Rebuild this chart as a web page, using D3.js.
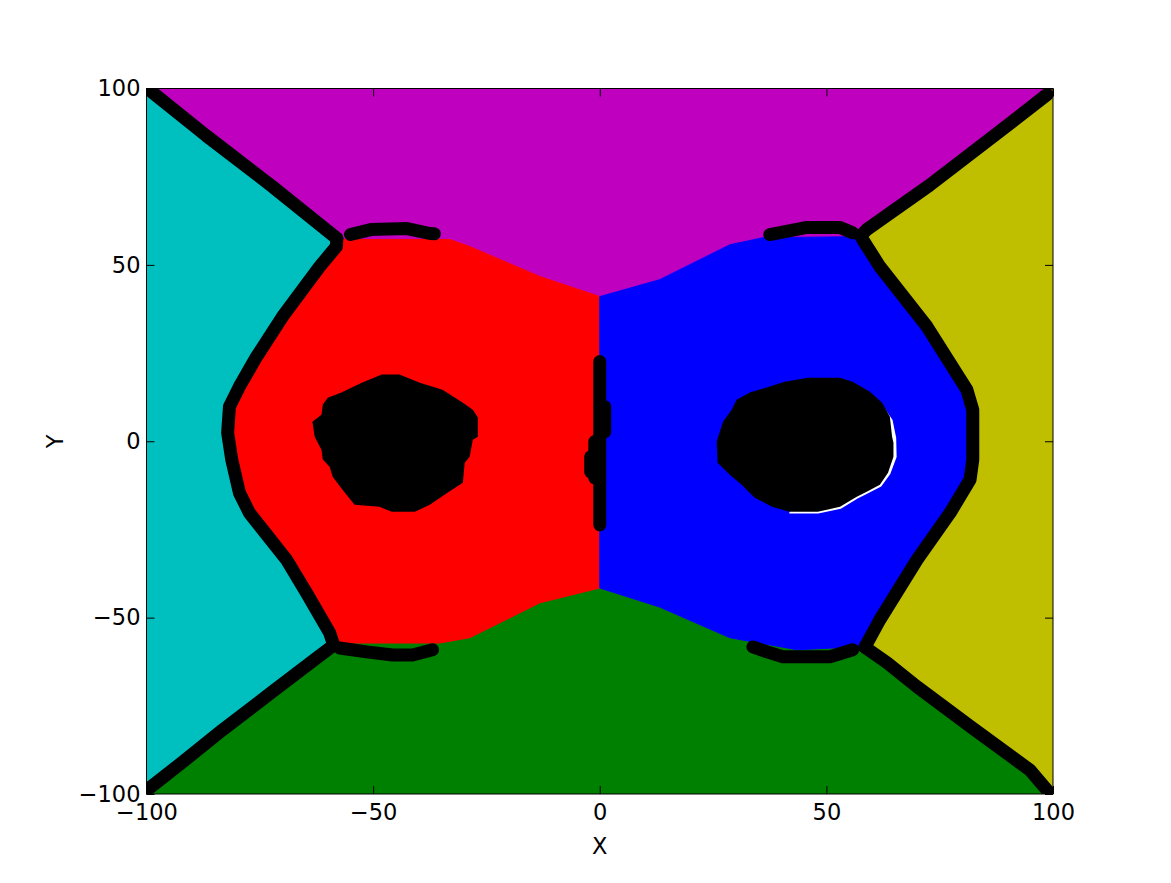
<!DOCTYPE html>
<meta charset="utf-8"/>
<style>
  body { margin: 0; background: #fff; }
  svg { display: block; }
  text { font-family: "DejaVu Sans"; }
</style>
<svg width="1171" height="883"></svg>
<script src="https://d3js.org/d3.v7.min.js"></script>
<script>

var xTicks = [-100, -50, 0, 50, 100],
    yTicks = [-100, -50, 0, 50, 100];

// region boundaries (data units)
var leftTopEdge = [[-100,100],[-98.7,98.9],[-86.8,86.6],[-72.2,72.2],[-58,57.5]];
var redLeftEdge = [[-58,57.5],[-58.1,55.2],[-61.8,49.5],[-70,35.3],[-75.7,24],[-79.5,15.5],[-81.7,9.8],[-82.1,2.4],[-81.2,-5.2],[-79.5,-14.6],[-77.3,-20.3],[-69.1,-33.6],[-64.7,-43],[-59.6,-54.3],[-58.7,-57.8]];
var leftBottomEdge = [[-58.7,-57.8],[-62.5,-61.5],[-72.2,-71],[-83.2,-81.8],[-92.1,-91],[-99.3,-98.3],[-100,-100]];
var redTopEdge = [[-58,57.5],[-57.8,57.2],[-33.1,57.2],[-28.7,55.2],[-13.2,46.7],[0,41]];
var blueTopEdge = [[0,41],[13.2,45.8],[28.7,55.7],[36,57.7],[56.7,58],[57.6,58.2]];
var rightTopEdge = [[57.6,58.2],[58.9,60],[72.8,72.6],[87.6,87.2],[98.7,98.3],[100,100]];
var blueRightEdge = [[57.6,58.2],[58.1,57],[61.8,49.5],[72.2,32.5],[81,14.6],[82.3,8.9],[82.3,-5.2],[81.7,-10.9],[77.3,-20.3],[70,-33.6],[61.8,-50.6],[58.5,-58.4]];
var rightBottomEdge = [[58.5,-58.4],[63.4,-62.8],[70,-69.6],[81.7,-80.8],[94.9,-93.2],[98.7,-98.9],[100,-100]];
var redBottomEdge = [[-58.7,-57.8],[-57.4,-57.2],[-35.3,-57.2],[-28.7,-55.7],[-13.2,-45.8],[0,-41.6]];
var blueBottomEdge = [[0,-41.6],[13.2,-47],[28.7,-55.7],[43.5,-59.1],[56.7,-58.3],[58.5,-58.4]];
var middleEdge = [[0,41],[0,-41.6]];

// black blobs
var leftBlob = [[-48.1,18.9],[-44.2,18.9],[-39.7,16.6],[-34.7,14.6],[-30.2,10.9],[-28,8.9],[-26.9,6.7],[-26.9,1.3],[-28,0.4],[-28.7,-4.4],[-29.8,-6.1],[-30.2,-11.8],[-33.6,-14.6],[-37.5,-18],[-40.8,-20],[-45.9,-20],[-48.6,-18.6],[-54.1,-18],[-56.7,-13.8],[-58.9,-10.1],[-59.6,-7.2],[-61.1,-5.2],[-61.4,-2.4],[-62.9,1.3],[-63.4,5.5],[-61.4,7.5],[-61.1,10.4],[-60,12.3],[-57,13.8],[-52.5,16.6]];
var rightBlob = [[45.9,18],[53,18],[55.8,16.9],[59.6,14],[62.3,10.9],[64,7],[64.5,1.3],[64.8,-0.4],[64.8,-4.4],[63.6,-8.9],[61.8,-12.3],[58.9,-14.3],[56.7,-15.7],[53,-18.6],[48.1,-20],[41.9,-20],[38,-18.6],[34.2,-16],[31.3,-12.3],[28.7,-9.5],[26,-6.1],[25.8,-0.1],[27.2,5.5],[29.1,8.9],[30.2,11.8],[33.1,13.8],[37.5,15.5],[40.8,16.9]];
var rightRim = [[62.8,9.5],[64.6,6],[65.4,1],[65.5,-4.5],[64.1,-9.3],[62.1,-12.8],[59.1,-14.8],[56.9,-16.2],[53.2,-19.1],[48.2,-20.5],[41.8,-20.5],[45,0]];

// dotted boundary lines
var redTopDots = [[-55,58.6],[-50.5,60],[-42.5,60.3],[-37.5,58.9],[-36.5,58.8]];
var redBottomDots = [[-57.4,-58.6],[-51.4,-59.7],[-45.7,-60.6],[-41.3,-60.6],[-36.9,-59.1]];
var blueTopDots = [[37.5,58.6],[45.7,60.6],[53,60.6],[55.8,59.1]];
var blueBottomDots = [[33.8,-58.3],[36.9,-59.7],[40.4,-61.1],[50.8,-61.1],[55.8,-59.1]];
var centerDots = [[[0,22.6],[0,-23.7]], [[1.1,9.8],[1.1,2.7]], [[-1.1,-0.1],[-1.1,-10.4]], [[-2,-4.4],[-2,-8.7]]];

var svg = d3.select("svg"),
    margin = {top: 88.5, right: 118, bottom: 89, left: 146.5},
    width = +svg.attr("width") - margin.left - margin.right,
    height = +svg.attr("height") - margin.top - margin.bottom,
    g = svg.append("g").attr("transform", "translate(" + margin.left + "," + margin.top + ")");

var x = d3.scaleLinear().domain([-100, 100]).range([0, width]);
var y = d3.scaleLinear().domain([-100, 100]).range([height, 0]);

var line = d3.line().x(function(d) { return x(d[0]); }).y(function(d) { return y(d[1]); });
function rev(a) { return a.slice().reverse(); }

svg.append("defs").append("clipPath").attr("id", "plot")
  .append("rect").attr("width", width).attr("height", height);

var regions = [
  {fill: "#bf00bf", pts: [[-100,100],[100,100]].concat(rev(rightTopEdge), rev(blueTopEdge), rev(redTopEdge), rev(leftTopEdge))},
  {fill: "#00bfbf", pts: leftTopEdge.concat(redLeftEdge, leftBottomEdge)},
  {fill: "#008000", pts: rev(leftBottomEdge).concat(redBottomEdge, blueBottomEdge, rightBottomEdge)},
  {fill: "#bfbf00", pts: rightTopEdge.concat(rev(rightBottomEdge), rev(blueRightEdge))},
  {fill: "#ff0000", pts: redTopEdge.concat(middleEdge, rev(redBottomEdge), rev(redLeftEdge))},
  {fill: "#0000ff", pts: blueTopEdge.concat(blueRightEdge, rev(blueBottomEdge), rev(middleEdge))}
];

var plot = g.append("g").attr("clip-path", "url(#plot)");

plot.selectAll("path.region")
  .data(regions)
  .enter().append("path")
    .attr("class", "region")
    .attr("fill", function(d) { return d.fill; })
    .attr("stroke", function(d) { return d.fill; })
    .attr("stroke-width", 1)
    .attr("d", function(d) { return line(d.pts) + "Z"; });

plot.append("path")
    .attr("fill", "#fff")
    .attr("d", line(rightRim) + "Z");

plot.selectAll("path.blob")
  .data([leftBlob, rightBlob])
  .enter().append("path")
    .attr("class", "blob")
    .attr("fill", "#000")
    .attr("d", function(d) { return line(d) + "Z"; });

var dotLines = [leftTopEdge.slice(1), redLeftEdge, leftBottomEdge.slice(0, -1), redTopDots, redBottomDots,
                blueTopDots, blueBottomDots, rightTopEdge.slice(0, -1), blueRightEdge, rightBottomEdge.slice(0, -1)]
  .concat(centerDots);

plot.selectAll("path.dots")
  .data(dotLines)
  .enter().append("path")
    .attr("class", "dots")
    .attr("fill", "none")
    .attr("stroke", "#000")
    .attr("stroke-width", 13)
    .attr("stroke-linecap", "round")
    .attr("stroke-linejoin", "round")
    .attr("d", line);

// axes, ticks pointing in on all four sides
function styleAxis(sel) {
  sel.select(".domain").remove();
  sel.selectAll(".tick line").attr("stroke", "#000");
  sel.selectAll("text").attr("fill", "#000").style("font-size", "22.5px").style("font-family", "DejaVu Sans");
}

g.append("g")
    .attr("transform", "translate(0," + height + ")")
    .call(d3.axisBottom(x).tickValues(xTicks).tickSizeInner(-8).tickSizeOuter(0).tickPadding(10))
    .call(styleAxis);

g.append("g")
    .call(d3.axisTop(x).tickValues(xTicks).tickSizeInner(-8).tickSizeOuter(0).tickFormat(""))
    .call(styleAxis);

g.append("g")
    .call(d3.axisLeft(y).tickValues(yTicks).tickSizeInner(-8).tickSizeOuter(0).tickPadding(6))
    .call(styleAxis);

g.append("g")
    .attr("transform", "translate(" + width + ",0)")
    .call(d3.axisRight(y).tickValues(yTicks).tickSizeInner(-8).tickSizeOuter(0).tickFormat(""))
    .call(styleAxis);

g.append("rect")
    .attr("width", width)
    .attr("height", height)
    .attr("fill", "none")
    .attr("stroke", "#000")
    .attr("stroke-width", 1);

g.append("text")
    .attr("x", width / 2)
    .attr("y", height + 60)
    .attr("text-anchor", "middle")
    .style("font-size", "22.5px")
    .text("X");

g.append("text")
    .attr("transform", "translate(-84," + (height / 2) + ") rotate(-90)")
    .attr("text-anchor", "middle")
    .style("font-size", "22.5px")
    .text("Y");

</script>
